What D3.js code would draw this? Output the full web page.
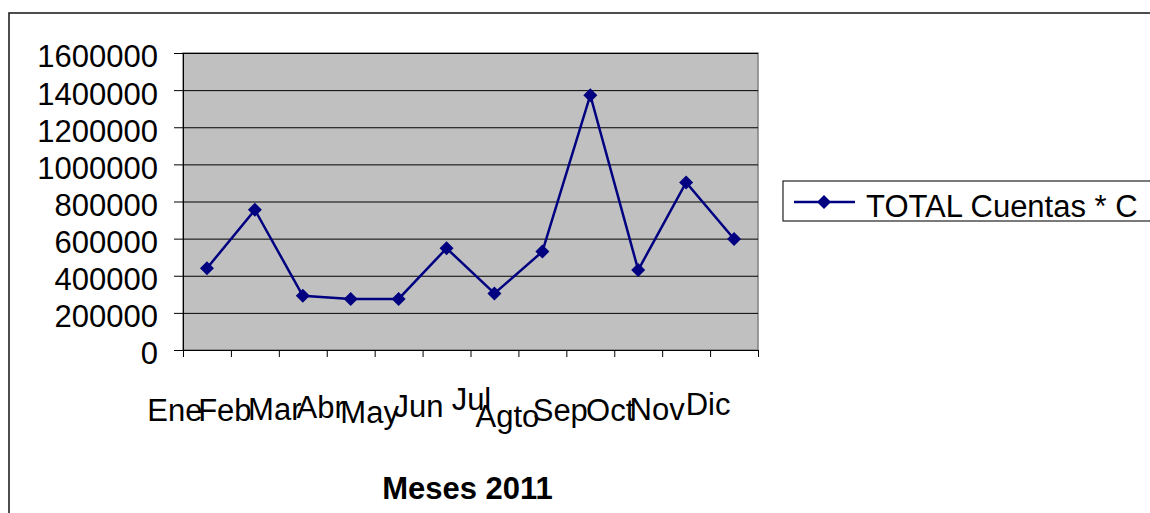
<!DOCTYPE html>
<html>
<head>
<meta charset="utf-8">
<style>
  body { margin: 0; background: #fff; }
  svg { display: block; font-family: "Liberation Sans", Arial, sans-serif; }
</style>
<script src="https://cdnjs.cloudflare.com/ajax/libs/d3/7.8.5/d3.min.js"></script>
</head>
<body>
<div id="chart"></div>
<script>
// data
const months = ["Ene", "Feb", "Mar", "Abr", "May", "Jun", "Jul", "Agto", "Sep", "Oct", "Nov", "Dic"];
const totals = [440000, 755000, 292000, 275000, 275000, 548000, 305000, 530000, 1373000, 431000, 903000, 598000];
const yTicks = [0, 200000, 400000, 600000, 800000, 1000000, 1200000, 1400000, 1600000];
const seriesName = "TOTAL Cuentas * C";
const xTitle = "Meses 2011";

// excel-ish jitter of the month labels (layout only)
const labelDx = [-32, -30, -28, -30, -29, -28, -23, -35, -30, -28, -29, -26];
const labelDy = [71, 71, 70, 68, 73, 67, 60, 77, 71, 71, 70, 65];

const W = 1150, H = 513;
const plot = {left: 183, right: 758, top: 53, bottom: 350};
const navy = "#000080";
const fs = 31;

const svg = d3.select("#chart").append("svg")
  .attr("width", W).attr("height", H);

// outer chart frame (runs off the page on the right and bottom)
svg.append("rect")
  .attr("x", 9).attr("y", 13)
  .attr("width", 1300).attr("height", 700)
  .attr("fill", "none").attr("stroke", "#222").attr("stroke-width", 1.6);

const x = d3.scaleBand().domain(months).range([plot.left, plot.right]);
const xEdge = d3.scaleLinear().domain([0, months.length]).range([plot.left, plot.right]);
const y = d3.scaleLinear().domain([0, 1600000]).range([plot.bottom, plot.top]);

// plot area
svg.append("rect")
  .attr("x", plot.left).attr("y", plot.top)
  .attr("width", plot.right - plot.left).attr("height", plot.bottom - plot.top)
  .attr("fill", "#c0c0c0")
  .attr("stroke", "#808080").attr("stroke-width", 1.5);

// gridlines
svg.append("g")
  .attr("transform", `translate(${plot.left},0)`)
  .call(d3.axisLeft(y).tickValues(yTicks.slice(1)).tickSize(-(plot.right - plot.left)).tickFormat(""))
  .call(g => g.select(".domain").remove())
  .call(g => g.selectAll("line").attr("stroke", "#000").attr("stroke-width", 1));

// y axis
svg.append("g")
  .attr("transform", `translate(${plot.left},0)`)
  .call(d3.axisLeft(y).tickValues(yTicks).tickSize(9).tickPadding(16).tickFormat(d3.format("d")).tickSizeOuter(0))
  .call(g => g.select(".domain").attr("stroke", "#000"))
  .call(g => g.selectAll("line").attr("stroke", "#000"))
  .call(g => g.selectAll("text")
    .attr("font-family", "Liberation Sans, Arial, sans-serif")
    .attr("font-size", fs).attr("fill", "#000").attr("dy", "0.45em"));

// x axis (ticks between categories)
svg.append("g")
  .attr("transform", `translate(0,${plot.bottom})`)
  .call(d3.axisBottom(xEdge).ticks(months.length).tickSize(7).tickFormat("").tickSizeOuter(0))
  .call(g => g.select(".domain").attr("stroke", "#000"))
  .call(g => g.selectAll("line").attr("stroke", "#000"));

// month labels
svg.append("g").selectAll("text")
  .data(months)
  .join("text")
  .attr("x", (d, i) => x(d) + x.bandwidth() / 2 + labelDx[i])
  .attr("y", (d, i) => plot.bottom + labelDy[i])
  .attr("text-anchor", "middle")
  .attr("font-size", fs)
  .attr("fill", "#000")
  .text(d => d);

// axis title
svg.append("text")
  .attr("x", (plot.left + plot.right) / 2 - 3)
  .attr("y", 499)
  .attr("text-anchor", "middle")
  .attr("font-size", fs)
  .attr("font-weight", "bold")
  .text(xTitle);

// line + markers
const line = d3.line()
  .x((d, i) => x(months[i]) + x.bandwidth() / 2)
  .y(d => y(d));

svg.append("path")
  .datum(totals)
  .attr("d", line)
  .attr("fill", "none")
  .attr("stroke", navy)
  .attr("stroke-width", 2.5);

const diamond = "M0,-7L7,0L0,7L-7,0Z";
svg.append("g").selectAll("path")
  .data(totals)
  .join("path")
  .attr("transform", (d, i) => `translate(${x(months[i]) + x.bandwidth() / 2},${y(d)})`)
  .attr("d", diamond)
  .attr("fill", navy);

// legend
const legend = svg.append("g").attr("transform", "translate(783,181)");
legend.append("rect")
  .attr("width", 420).attr("height", 40)
  .attr("fill", "#fff").attr("stroke", "#222").attr("stroke-width", 1.2);
legend.append("line")
  .attr("x1", 11).attr("x2", 72).attr("y1", 21).attr("y2", 21)
  .attr("stroke", navy).attr("stroke-width", 2.5);
legend.append("path")
  .attr("transform", "translate(41,21)")
  .attr("d", diamond)
  .attr("fill", navy);
legend.append("text")
  .attr("x", 83).attr("y", 36)
  .attr("font-size", fs)
  .attr("fill", "#000")
  .text(seriesName);
</script>
</body>
</html>
